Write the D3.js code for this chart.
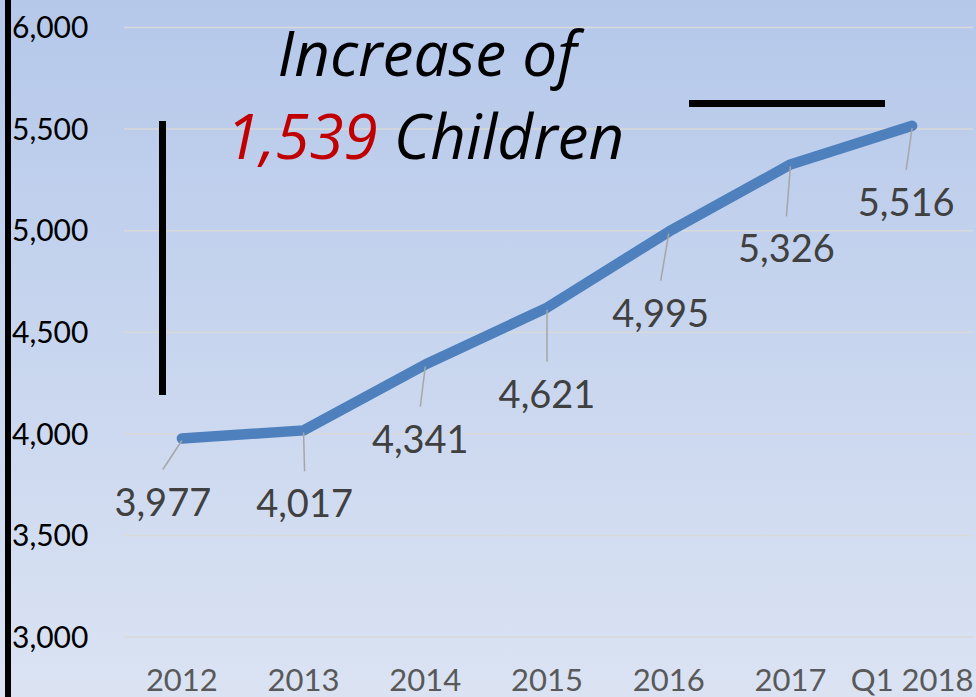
<!DOCTYPE html>
<html>
<head>
<meta charset="utf-8">
<script src="https://cdn.jsdelivr.net/npm/d3@7"></script>
<style>
  body { margin: 0; overflow: hidden; }
  svg { display: block; }
</style>
</head>
<body>
<script>
// chart data
const categories = ["2012", "2013", "2014", "2015", "2016", "2017", "Q1 2018"];
const children = [3977, 4017, 4341, 4621, 4995, 5326, 5516];
const yTicks = [3000, 3500, 4000, 4500, 5000, 5500, 6000];
// label offsets from each point (dx, dy to baseline)
const labelDx = [-19, 1, -5, 0, -8, -4, -6];
const labelDy = [77, 87, 88, 100, 95, 98, 90];

const width = 976, height = 697;

const svg = d3.select("body").append("svg")
    .attr("width", width)
    .attr("height", height);

// background gradient
const grad = svg.append("defs").append("linearGradient")
    .attr("id", "bg")
    .attr("x1", 0).attr("y1", 0).attr("x2", 0).attr("y2", 1);
grad.append("stop").attr("offset", "0%").attr("stop-color", "#b5c8ea");
grad.append("stop").attr("offset", "100%").attr("stop-color", "#dbe3f3");

svg.append("rect")
    .attr("width", width)
    .attr("height", height)
    .attr("fill", "url(#bg)");

const x = d3.scalePoint()
    .domain(categories)
    .range([121, 973])
    .padding(0.5);

const y = d3.scaleLinear()
    .domain([3000, 6000])
    .range([637, 27.5]);

// gridlines
svg.selectAll("line.grid")
    .data(yTicks)
    .enter().append("line")
        .attr("class", "grid")
        .attr("x1", 124)
        .attr("x2", 973)
        .attr("y1", d => y(d))
        .attr("y2", d => y(d))
        .attr("stroke", "#d9d9d9")
        .attr("stroke-width", 1.5);

// y axis line
svg.append("line")
    .attr("x1", 8).attr("x2", 8)
    .attr("y1", 0).attr("y2", height)
    .attr("stroke", "#000")
    .attr("stroke-width", 6);

// y tick labels
svg.selectAll("text.ytick")
    .data(yTicks)
    .enter().append("text")
        .attr("class", "ytick")
        .attr("x", 12)
        .attr("y", d => y(d))
        .attr("dy", "0.36em")
        .attr("font-family", "Lato, sans-serif")
        .attr("font-size", 30)
        .attr("fill", "#000")
        .text(d => d3.format(",")(d));

// x labels
svg.selectAll("text.xtick")
    .data(categories)
    .enter().append("text")
        .attr("class", "xtick")
        .attr("x", d => x(d))
        .attr("y", 691)
        .attr("text-anchor", "middle")
        .attr("font-family", "Lato, sans-serif")
        .attr("font-size", 31)
        .attr("fill", "#595959")
        .text(d => d);

// the line
const line = d3.line()
    .x((d, i) => x(categories[i]))
    .y(d => y(d));

svg.append("path")
    .datum(children)
    .attr("d", line)
    .attr("fill", "none")
    .attr("stroke", "#4d80bd")
    .attr("stroke-width", 10.5)
    .attr("stroke-linecap", "round")
    .attr("stroke-linejoin", "round");

// leader lines
svg.selectAll("line.leader")
    .data(children)
    .enter().append("line")
        .attr("class", "leader")
        .attr("x1", (d, i) => x(categories[i]))
        .attr("y1", d => y(d) + 2)
        .attr("x2", (d, i) => x(categories[i]) + labelDx[i])
        .attr("y2", (d, i) => y(d) + labelDy[i] - 46)
        .attr("stroke", "#a6a6a6")
        .attr("stroke-width", 1.5);

// data labels
svg.selectAll("text.dlabel")
    .data(children)
    .enter().append("text")
        .attr("class", "dlabel")
        .attr("x", (d, i) => x(categories[i]) + labelDx[i])
        .attr("y", (d, i) => y(d) + labelDy[i])
        .attr("text-anchor", "middle")
        .attr("font-family", "Lato, sans-serif")
        .attr("font-size", 38)
        .attr("fill", "#404040")
        .text(d => d3.format(",")(d));

// annotation bars
svg.append("line")
    .attr("x1", 162.5).attr("x2", 162.5)
    .attr("y1", 121).attr("y2", 395)
    .attr("stroke", "#000")
    .attr("stroke-width", 7);

svg.append("line")
    .attr("x1", 689).attr("x2", 885)
    .attr("y1", 103.5).attr("y2", 103.5)
    .attr("stroke", "#000")
    .attr("stroke-width", 7);

// title text
const title = svg.append("text")
    .attr("x", 426)
    .attr("text-anchor", "middle")
    .attr("font-family", "'Open Sans', sans-serif")
    .attr("font-style", "italic")
    .attr("font-size", 62);

title.append("tspan")
    .attr("x", 427)
    .attr("y", 76)
    .attr("fill", "#000")
    .text("Increase of");

const t2 = title.append("tspan")
    .attr("x", 425)
    .attr("y", 159);
t2.append("tspan").attr("fill", "#c00000").text("1,539");
t2.append("tspan").attr("fill", "#000").text(" Children");
</script>
</body>
</html>
